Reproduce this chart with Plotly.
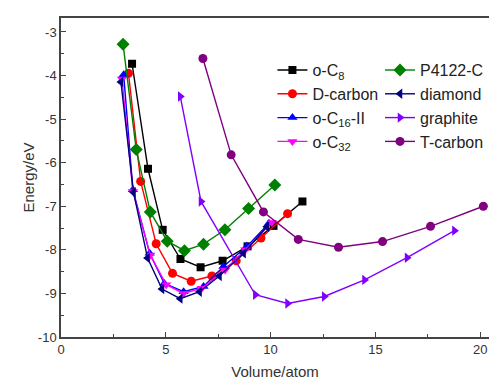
import plotly.graph_objects as go

# ---- data ----
oc8_x = [3.39, 4.15, 4.85, 5.70, 6.66, 7.71, 8.90, 10.14, 11.52]
oc8_y = [-3.73, -6.14, -7.54, -8.21, -8.40, -8.25, -7.92, -7.45, -6.89]

dcarb_x = [3.22, 3.80, 4.54, 5.32, 6.21, 7.20, 8.36, 9.54, 10.81]
dcarb_y = [-3.95, -6.43, -7.86, -8.54, -8.72, -8.60, -8.25, -7.73, -7.17]

oc16_x = [2.99, 3.43, 4.23, 4.93, 5.85, 6.80, 7.75, 8.87, 9.92]
oc16_y = [-3.98, -6.62, -8.08, -8.77, -8.96, -8.84, -8.38, -7.92, -7.39]

oc32_x = [2.91, 3.43, 4.26, 5.02, 5.85, 6.72, 7.83, 8.79, 10.06]
oc32_y = [-4.08, -6.66, -8.12, -8.80, -9.00, -8.88, -8.46, -8.00, -7.37]

p4122_x = [2.96, 3.59, 4.26, 5.07, 5.89, 6.80, 7.82, 8.95, 10.20]
p4122_y = [-3.28, -5.70, -7.13, -7.80, -8.02, -7.87, -7.54, -7.05, -6.51]

diam_x = [2.86, 3.46, 4.13, 4.82, 5.69, 6.61, 7.56, 8.71, 9.82]
diam_y = [-4.15, -6.68, -8.19, -8.90, -9.12, -8.96, -8.60, -8.08, -7.47]

graph_x = [5.69, 6.68, 9.27, 10.81, 12.56, 14.48, 16.51, 18.77]
graph_y = [-4.48, -6.89, -9.03, -9.23, -9.07, -8.69, -8.18, -7.56]

tcarb_x = [6.77, 8.12, 9.66, 11.32, 13.24, 15.34, 17.63, 20.15]
tcarb_y = [-3.61, -5.82, -7.13, -7.76, -7.94, -7.81, -7.46, -7.00]

x_ticks = [0, 5, 10, 15, 20]
y_ticks = [-10, -9, -8, -7, -6, -5, -4, -3]
y_labels = ["-10", "-9", "-8", "-7", "-6", "-5", "-4", "-3"]

series = [
    ("o-C<sub>8</sub>", oc8_x, oc8_y, "#000000", "square", 8, "legend"),
    ("D-carbon", dcarb_x, dcarb_y, "#ff0000", "circle", 9, "legend"),
    ("o-C<sub>16</sub>-II", oc16_x, oc16_y, "#0000ff", "triangle-up", 9, "legend"),
    ("o-C<sub>32</sub>", oc32_x, oc32_y, "#ff00ff", "triangle-down", 9, "legend"),
    ("P4122-C", p4122_x, p4122_y, "#008000", "diamond", 10, "legend2"),
    ("diamond", diam_x, diam_y, "#000080", "triangle-left", 9, "legend2"),
    ("graphite", graph_x, graph_y, "#8000ff", "triangle-right", 9, "legend2"),
    ("T-carbon", tcarb_x, tcarb_y, "#800080", "circle", 9, "legend2"),
]

fig = go.Figure()
for name, xs, ys, col, sym, sz, lg in series:
    fig.add_trace(go.Scatter(
        x=xs, y=ys, name=name, mode="lines+markers",
        line=dict(color=col, width=1.4),
        marker=dict(symbol=sym, size=sz, color=col),
        legend=lg,
    ))

font_family = "Liberation Sans, Arial, sans-serif"
axis_common = dict(
    showgrid=False, zeroline=False, showline=True, linecolor="#444444",
    linewidth=1.5, ticks="inside", ticklen=5, tickcolor="#444444",
    tickwidth=1.2, automargin=False,
    tickfont=dict(family=font_family, size=13, color="#333333"),
)

fig.update_layout(
    width=489, height=381,
    margin=dict(l=61, r=0, t=18, b=44),
    paper_bgcolor="white", plot_bgcolor="white",
    font=dict(family=font_family, color="#222222"),
    xaxis=dict(
        range=[0, 20.42], tickvals=x_ticks, mirror=True,
        minor=dict(dtick=2.5, tick0=0, ticks="inside", ticklen=3, tickcolor="#444444"),
        title=dict(text="Volume/atom", font=dict(family=font_family, size=15, color="#333333"), standoff=10),
        **axis_common,
    ),
    yaxis=dict(
        range=[-10, -2.68], tickvals=y_ticks, ticktext=y_labels,
        minor=dict(dtick=0.5, tick0=0, ticks="inside", ticklen=3, tickcolor="#444444"),
        title=dict(text="Energy/eV", font=dict(family=font_family, size=15, color="#333333"), standoff=0),
        **axis_common,
    ),
    legend=dict(
        x=0.494, y=0.89, xanchor="left", yanchor="top",
        bgcolor="rgba(0,0,0,0)", itemwidth=30, tracegroupgap=0,
        font=dict(family=font_family, size=16, color="#222222"),
    ),
    legend2=dict(
        x=0.746, y=0.89, xanchor="left", yanchor="top",
        bgcolor="rgba(0,0,0,0)", itemwidth=30, tracegroupgap=0,
        font=dict(family=font_family, size=16, color="#222222"),
    ),
)

fig.write_html("out.html")
